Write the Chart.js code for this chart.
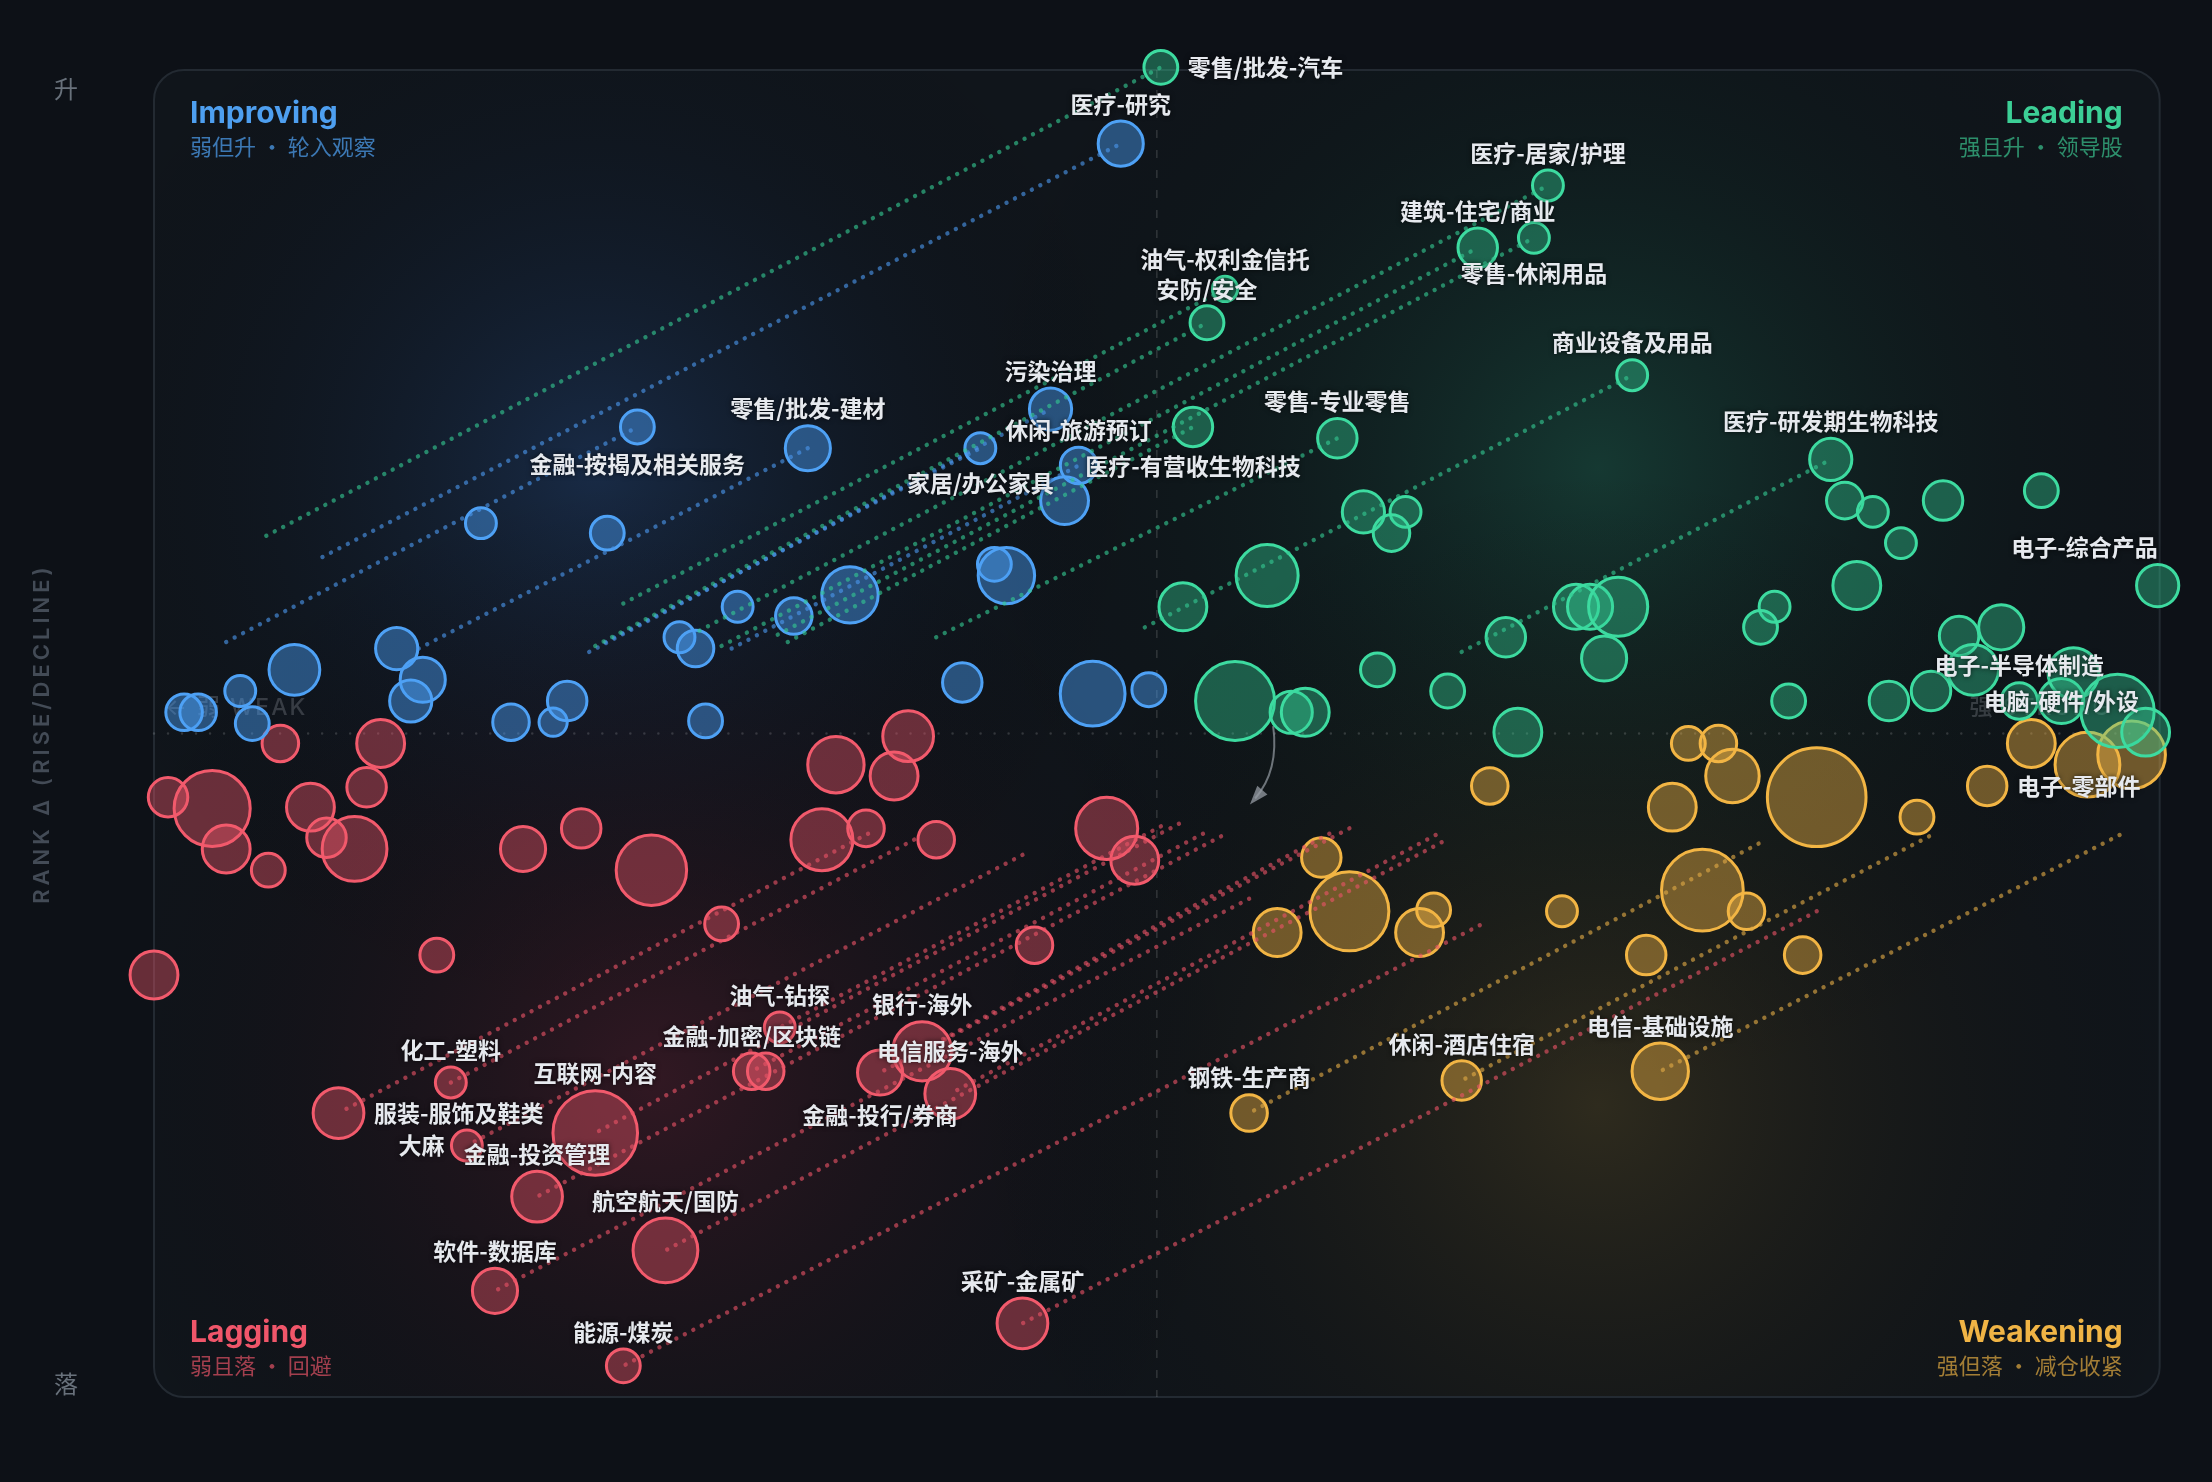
<!DOCTYPE html>
<html>
<head>
<meta charset="utf-8">
<title>Sector Rotation</title>
<script src="https://cdn.jsdelivr.net/npm/chart.js@4.4.1/dist/chart.umd.min.js"></script>
<style>
html, body { margin: 0; padding: 0; background: #0d1117; overflow: hidden; }
canvas { display: block; }
</style>
</head>
<body>
<canvas id="rrg" width="2212" height="1482"></canvas>
<script>
// sector -> strength (x, 0..100), rank change (y, -100..100), market cap (bubble size)
const sectorNames = [
    // improving
    '医疗-研究', '金融-按揭及相关服务', '零售/批发-建材', '', '', '污染治理', '家居/办公家具', '休闲-旅游预订', '', '',
    '', '', '', '', '', '', '', '', '', '',
    '', '', '', '', '', '', '', '', '', '', '',
    // leading
    '零售/批发-汽车', '医疗-居家/护理', '建筑-住宅/商业', '零售-休闲用品', '油气-权利金信托', '安防/安全', '商业设备及用品', '医疗-有营收生物科技', '零售-专业零售', '医疗-研发期生物科技',
    '', '', '', '', '', '电子-综合产品', '', '', '', '',
    '', '', '', '', '', '', '', '', '', '',
    '', '', '电子-半导体制造', '电脑-硬件/外设', '', '', '', '', '', '',
    '', '', '', '', '', '',
    // weakening
    '', '', '', '', '', '', '电子-零部件', '', '', '',
    '', '', '', '', '', '', '', '', '', '',
    '', '钢铁-生产商', '休闲-酒店住宿', '电信-基础设施',
    // lagging
    '', '', '', '', '', '', '', '', '', '',
    '', '', '', '', '', '', '', '', '', '',
    '', '', '', '', '', '油气-钻探', '金融-加密/区块链', '', '金融-投行/券商', '银行-海外',
    '电信服务-海外', '化工-塑料', '服装-服饰及鞋类', '大麻', '互联网-内容', '金融-投资管理', '航空航天/国防', '软件-数据库', '采矿-金属矿', '能源-煤炭'
];

const strength = [
    48.2, 24.1, 32.6, 16.3, 22.6, 44.7, 41.2, 46.1, 45.4, 29.1,
    31.9, 34.7, 41.9, 42.5, 26.2, 27.0, 7.0, 12.1, 13.4, 12.8,
    4.3, 4.9, 1.5, 2.2, 17.8, 19.9, 20.6, 27.5, 40.3, 46.8, 49.6,

    50.2, 69.5, 66.0, 68.8, 53.4, 52.5, 73.7, 51.8, 59.0, 83.6,
    84.3, 85.7, 89.2, 94.1, 87.1, 99.9, 84.9, 60.3, 62.4, 61.7,
    55.5, 51.3, 70.9, 71.6, 73.0, 67.4, 72.3, 80.8, 80.1, 90.0,
    92.1, 90.7, 93.0, 95.1, 95.7, 97.9, 99.3, 61.0, 64.5, 81.5,
    86.5, 88.6, 53.9, 56.7, 57.4, 68.0,

    76.5, 78.0, 78.7, 75.7, 82.9, 87.9, 91.4, 93.6, 96.4, 98.6,
    66.6, 58.2, 59.6, 56.0, 63.1, 63.8, 70.2, 77.2, 79.4, 74.4,
    82.2, 54.6, 65.2, 75.1,

    6.3, 11.3, 10.6, 0.7, 2.9, 3.6, 5.7, 7.8, 8.6, 10.0,
    18.4, 21.3, 24.8, 28.3, 14.1, 0.0, 37.6, 34.0, 36.9, 33.3,
    35.5, 39.0, 47.5, 48.9, 43.9, 31.2, 29.8, 30.5, 36.2, 38.3,
    39.7, 14.8, 9.2, 15.6, 22.0, 19.1, 25.5, 17.0, 43.3, 23.4
];

const rankDelta = [
    88.9, 46.2, 43.0, 31.7, 30.2, 48.9, 43.0, 40.4, 35.1, 19.1,
    17.7, 20.9, 25.5, 23.8, 14.5, 12.8, 9.6, 12.8, 8.1, 4.9,
    6.4, 1.5, 3.2, 3.2, 1.7, 1.7, 4.9, 1.9, 7.7, 6.0, 6.6,

    100.4, 82.6, 73.2, 74.7, 67.0, 61.9, 54.0, 46.2, 44.5, 41.3,
    35.1, 33.4, 35.1, 36.6, 28.7, 22.3, 22.3, 33.4, 33.4, 30.2,
    23.8, 19.1, 19.1, 19.1, 19.1, 14.5, 11.3, 19.1, 16.0, 14.7,
    16.0, 9.6, 4.9, 4.9, 9.1, 3.4, 0.2, 9.6, 6.4, 4.9,
    4.9, 6.4, 4.9, 3.2, 3.2, 0.2,

    -1.5, -1.5, -6.4, -11.1, -9.6, -12.6, -7.9, -1.5, -4.7, -3.2,
    -7.9, -18.7, -26.8, -30.0, -30.0, -26.6, -26.8, -23.6, -26.8, -33.4,
    -33.4, -57.2, -52.3, -50.9,

    -1.5, -1.5, -8.1, -9.6, -11.3, -17.4, -20.6, -11.1, -15.7, -17.4,
    -17.4, -14.3, -20.6, -28.7, -33.4, -36.4, -0.4, -4.7, -6.4, -16.0,
    -14.3, -16.0, -14.3, -19.1, -31.9, -44.3, -50.9, -50.9, -51.1, -47.9,
    -54.3, -52.6, -57.2, -62.1, -60.2, -69.8, -77.9, -84.0, -88.9, -95.3
];

const marketCap = [
    64, 36, 64, 30, 36, 56, 30, 42, 72, 30,
    42, 100, 36, 100, 30, 42, 81, 56, 64, 56,
    30, 36, 42, 42, 42, 25, 49, 36, 49, 132, 36,

    36, 30, 49, 30, 20, 36, 30, 49, 49, 56,
    42, 30, 49, 36, 30, 56, 72, 56, 30, 42,
    121, 72, 64, 64, 110, 49, 64, 30, 36, 49,
    64, 81, 42, 64, 81, 169, 72, 36, 36, 36,
    49, 49, 196, 56, 72, 72,

    36, 42, 90, 72, 306, 36, 49, 72, 132, 144,
    42, 49, 196, 72, 72, 36, 30, 210, 42, 49,
    42, 42, 49, 100,

    42, 72, 49, 49, 182, 72, 36, 72, 49, 132,
    64, 49, 156, 36, 36, 72, 81, 100, 72, 121,
    42, 42, 121, 72, 42, 30, 42, 42, 64, 110,
    81, 30, 81, 30, 225, 81, 132, 64, 81, 36
];

// tail = previous position of the sector
const trailNames = [
    '零售/批发-汽车', '医疗-研究', '金融-按揭及相关服务', '零售/批发-建材', '油气-权利金信托', '安防/安全',
    '污染治理', '家居/办公家具', '医疗-居家/护理', '建筑-住宅/商业', '休闲-旅游预订', '零售-休闲用品',
    '医疗-有营收生物科技', '零售-专业零售', '商业设备及用品', '医疗-研发期生物科技',
    '钢铁-生产商', '休闲-酒店住宿', '电信-基础设施',
    '服装-服饰及鞋类', '化工-塑料', '大麻', '互联网-内容', '油气-钻探', '金融-加密/区块链', '金融-投资管理',
    '软件-数据库', '银行-海外', '金融-投行/券商', '电信服务-海外', '航空航天/国防', '能源-煤炭', '采矿-金属矿'
];
const trailX = [
    5.6, 8.4, 3.6, 13.2, 23.4, 22.0, 21.7, 22.5, 27.2, 28.3, 28.8, 31.1, 31.6, 39.0, 49.4, 65.2,
    80.0, 88.5, 98.0,
    35.6, 37.9, 43.3, 51.1, 50.2, 52.3, 53.2, 54.6, 59.6, 58.6, 63.9, 64.2, 66.1, 82.9
];
const trailY = [
    29.8, 26.6, 13.8, 12.8, 19.6, 13.2, 12.3, 13.8, 15.5, 13.2, 12.8, 14.9, 13.8, 14.5, 16.0, 12.3,
    -16.6, -15.5, -15.3,
    -15.1, -16.0, -18.3, -13.6, -14.0, -15.1, -15.5, -24.9, -14.3, -15.1, -15.3, -16.4, -28.9, -26.8
];

// where each name label sits relative to its bubble
const labelSide = {
    '医疗-研究': 'top', '金融-按揭及相关服务': 'bottom', '零售/批发-建材': 'top', '污染治理': 'top',
    '家居/办公家具': 'bottom', '休闲-旅游预订': 'top', '零售/批发-汽车': 'right', '医疗-居家/护理': 'top',
    '建筑-住宅/商业': 'top', '零售-休闲用品': 'bottom', '油气-权利金信托': 'top', '安防/安全': 'top',
    '商业设备及用品': 'top', '医疗-有营收生物科技': 'bottom', '零售-专业零售': 'top', '医疗-研发期生物科技': 'top',
    '电子-综合产品': 'top', '电子-半导体制造': 'top', '电脑-硬件/外设': 'center', '电子-零部件': 'right',
    '钢铁-生产商': 'top', '休闲-酒店住宿': 'top', '电信-基础设施': 'top',
    '油气-钻探': 'top', '金融-加密/区块链': 'top', '金融-投行/券商': 'bottom', '银行-海外': 'top',
    '电信服务-海外': 'top', '化工-塑料': 'top', '服装-服饰及鞋类': 'right', '大麻': 'left',
    '互联网-内容': 'top', '金融-投资管理': 'top', '航空航天/国防': 'top', '软件-数据库': 'top',
    '采矿-金属矿': 'top', '能源-煤炭': 'top'
};

const quadrants = {
    improving: { title: 'Improving', sub: '弱但升 · 轮入观察', line: '#4ea1f5', fill: 'rgba(74,158,245,0.45)', trail: 'rgba(74,150,235,0.62)', title_c: '#4e9ff0', sub_c: 'rgba(78,159,240,0.72)' },
    leading:   { title: 'Leading',   sub: '强且升 · 领导股',   line: '#3ddba0', fill: 'rgba(52,211,153,0.38)', trail: 'rgba(52,200,145,0.62)', title_c: '#3ccf96', sub_c: 'rgba(60,207,150,0.66)' },
    weakening: { title: 'Weakening', sub: '强但落 · 减仓收紧', line: '#f2b544', fill: 'rgba(242,181,68,0.42)', trail: 'rgba(225,170,70,0.62)', title_c: '#f0b445', sub_c: 'rgba(240,180,69,0.66)' },
    lagging:   { title: 'Lagging',   sub: '弱且落 · 回避',     line: '#f25a6c', fill: 'rgba(240,88,108,0.40)', trail: 'rgba(232,82,102,0.62)', title_c: '#f0566a', sub_c: 'rgba(240,86,106,0.66)' }
};

const arrowFrom = { x: 55.8, y: 1.1 };
const arrowTo = { x: 54.9, y: -9.8 };

function quadrantOf(x, y) {
    if (x >= 50) return y >= 0 ? 'leading' : 'weakening';
    return y >= 0 ? 'improving' : 'lagging';
}

function radiusOf(cap) {
    return Math.sqrt(cap) * 2.82;
}

function bubbleDatasets() {
    const groups = {};
    for (const q of Object.keys(quadrants)) groups[q] = [];
    sectorNames.forEach((name, i) => {
        const q = quadrantOf(strength[i], rankDelta[i]);
        groups[q].push({ x: strength[i], y: rankDelta[i], r: radiusOf(marketCap[i]), name });
    });
    return Object.keys(groups).map(q => ({
        type: 'bubble',
        label: q,
        data: groups[q],
        backgroundColor: quadrants[q].fill,
        borderColor: quadrants[q].line,
        borderWidth: 3,
        hoverBorderWidth: 3,
        clip: false,
        order: 2
    }));
}

function trailDatasets() {
    return trailNames.map((name, i) => {
        const k = sectorNames.indexOf(name);
        const q = quadrantOf(strength[k], rankDelta[k]);
        return {
            type: 'line',
            label: 'trail ' + name,
            data: [{ x: trailX[i], y: trailY[i] }, { x: strength[k], y: rankDelta[k] }],
            borderColor: quadrants[q].trail,
            borderWidth: 4.4,
            borderDash: [0.01, 9.5],
            borderCapStyle: 'round',
            pointRadius: 0,
            fill: false,
            tension: 0,
            clip: false,
            order: 1
        };
    });
}

function roundRect(ctx, x, y, w, h, r) {
    ctx.beginPath();
    ctx.moveTo(x + r, y);
    ctx.arcTo(x + w, y, x + w, y + h, r);
    ctx.arcTo(x + w, y + h, x, y + h, r);
    ctx.arcTo(x, y + h, x, y, r);
    ctx.arcTo(x, y, x + w, y, r);
    ctx.closePath();
}

function glow(ctx, cx, cy, rad, color) {
    const g = ctx.createRadialGradient(cx, cy, 0, cx, cy, rad);
    g.addColorStop(0, color);
    g.addColorStop(1, 'rgba(0,0,0,0)');
    ctx.fillStyle = g;
    ctx.fillRect(cx - rad, cy - rad, rad * 2, rad * 2);
}

const backdrop = {
    id: 'backdrop',
    beforeDraw(chart) {
        const { ctx, chartArea: a, width, height } = chart;
        ctx.save();
        ctx.fillStyle = '#0d1117';
        ctx.fillRect(0, 0, width, height);

        roundRect(ctx, a.left, a.top, a.width, a.height, 30);
        ctx.fillStyle = '#10151b';
        ctx.fill();
        ctx.save();
        ctx.clip();
        const w = a.width, h = a.height;
        glow(ctx, a.left + w * 0.22, a.top + h * 0.30, 560, 'rgba(38,78,140,0.38)');
        glow(ctx, a.left + w * 0.72, a.top + h * 0.30, 640, 'rgba(28,100,78,0.45)');
        glow(ctx, a.left + w * 0.25, a.top + h * 0.76, 600, 'rgba(95,28,45,0.42)');
        glow(ctx, a.left + w * 0.72, a.top + h * 0.78, 640, 'rgba(92,76,34,0.40)');
        ctx.restore();

        roundRect(ctx, a.left, a.top, a.width, a.height, 30);
        ctx.strokeStyle = '#232a32';
        ctx.lineWidth = 2;
        ctx.stroke();
        ctx.restore();
    },
    beforeDatasetsDraw(chart) {
        const { ctx, chartArea: a, scales } = chart;
        const mx = scales.x.getPixelForValue(50);
        const my = scales.y.getPixelForValue(0);
        ctx.save();

        // centre lines
        ctx.strokeStyle = 'rgba(255,255,255,0.15)';
        ctx.lineWidth = 2.5;
        ctx.lineCap = 'round';
        ctx.setLineDash([0.01, 14]);
        ctx.beginPath();
        ctx.moveTo(a.left, my);
        ctx.lineTo(a.right, my);
        ctx.stroke();
        ctx.lineCap = 'butt';
        ctx.lineWidth = 1.5;
        ctx.strokeStyle = 'rgba(255,255,255,0.14)';
        ctx.setLineDash([8, 12]);
        ctx.beginPath();
        ctx.moveTo(mx, a.top);
        ctx.lineTo(mx, a.bottom);
        ctx.stroke();
        ctx.setLineDash([]);

        // quadrant titles
        const L = a.left + 36, R = a.right - 37;
        const T = a.top + 44, B = a.bottom - 64;
        const corners = [
            ['improving', L, T, 'left'], ['leading', R, T, 'right'],
            ['lagging', L, B, 'left'], ['weakening', R, B, 'right']
        ];
        ctx.textBaseline = 'middle';
        for (const [q, x, y, align] of corners) {
            const s = quadrants[q];
            ctx.textAlign = align;
            ctx.font = '700 30px Inter, "Noto Sans", sans-serif';
            ctx.fillStyle = s.title_c;
            ctx.fillText(s.title, x, y);
            ctx.font = '400 22px "Noto Sans CJK SC", sans-serif';
            ctx.fillStyle = s.sub_c;
            ctx.fillText(s.sub, x, y + 33);
        }

        // weak / strong hints
        ctx.font = '500 23px Inter, "Noto Sans CJK SC", sans-serif';
        ctx.letterSpacing = '2px';
        ctx.fillStyle = 'rgba(200,206,214,0.22)';
        ctx.textAlign = 'left';
        ctx.fillText('← 弱 WEAK', a.left + 11, my - 25);
        ctx.textAlign = 'right';
        ctx.fillText('强 STRONG →', a.right - 16, my - 25);
        ctx.letterSpacing = '0px';

        // rise / fall markers and axis title
        ctx.font = '400 24px "Noto Sans CJK SC", sans-serif';
        ctx.fillStyle = '#68717b';
        ctx.textAlign = 'center';
        ctx.fillText('升', 66, a.top + 19);
        ctx.fillText('落', 66, a.bottom - 13);

        ctx.save();
        ctx.translate(42, (a.top + a.bottom) / 2);
        ctx.rotate(-Math.PI / 2);
        ctx.font = '600 22px Inter, "DejaVu Sans", sans-serif';
        ctx.letterSpacing = '4px';
        ctx.fillStyle = '#434b56';
        ctx.fillText('RANK Δ (RISE/DECLINE)', 0, 0);
        ctx.restore();

        // small rotation arrow
        const sx = scales.x.getPixelForValue(arrowFrom.x), sy = scales.y.getPixelForValue(arrowFrom.y);
        const ex = scales.x.getPixelForValue(arrowTo.x), ey = scales.y.getPixelForValue(arrowTo.y);
        const cx = sx + 6, cy = ey - 28;
        ctx.strokeStyle = 'rgba(150,156,164,0.7)';
        ctx.lineWidth = 2;
        ctx.beginPath();
        ctx.moveTo(sx, sy);
        ctx.quadraticCurveTo(cx, cy, ex, ey);
        ctx.stroke();
        const ang = Math.atan2(ey - cy, ex - cx);
        ctx.fillStyle = 'rgba(150,156,164,0.75)';
        ctx.beginPath();
        ctx.moveTo(ex + Math.cos(ang) * 8, ey + Math.sin(ang) * 8);
        ctx.lineTo(ex + Math.cos(ang + 2.6) * 13, ey + Math.sin(ang + 2.6) * 13);
        ctx.lineTo(ex + Math.cos(ang - 2.6) * 13, ey + Math.sin(ang - 2.6) * 13);
        ctx.closePath();
        ctx.fill();

        ctx.restore();
    }
};

const nameLabels = {
    id: 'nameLabels',
    afterDatasetsDraw(chart) {
        const { ctx, chartArea: a, scales } = chart;
        ctx.save();
        ctx.font = '600 23px "Noto Sans CJK SC", sans-serif';
        ctx.fillStyle = '#e6e9ee';
        ctx.textBaseline = 'middle';
        ctx.shadowColor = 'rgba(0,0,0,0.75)';
        ctx.shadowBlur = 5;
        sectorNames.forEach((name, i) => {
            if (!name) return;
            const px = scales.x.getPixelForValue(strength[i]);
            const py = scales.y.getPixelForValue(rankDelta[i]);
            const r = radiusOf(marketCap[i]);
            const w = ctx.measureText(name).width;
            const side = labelSide[name] || 'top';
            let left, y;
            if (side === 'top') { left = px - w / 2; y = py - r - 17; }
            else if (side === 'bottom') { left = px - w / 2; y = py + r + 20; }
            else if (side === 'right') { left = px + r + 10; y = py; }
            else if (side === 'left') { left = px - r - 7 - w; y = py; }
            else { left = px - w / 2; y = py; }
            if (left < a.left + 4) left = a.left + 4;
            if (left + w > a.right - 2) left = a.right - 2 - w;
            ctx.textAlign = 'left';
            ctx.fillText(name, left, y);
        });
        ctx.restore();
    }
};

const chart = new Chart(document.getElementById('rrg'), {
    type: 'bubble',
    data: { datasets: [...bubbleDatasets(), ...trailDatasets()] },
    options: {
        responsive: false,
        animation: false,
        devicePixelRatio: 1,
        layout: { padding: { left: 154, right: 34, top: 70, bottom: 85 } },
        scales: {
            x: { type: 'linear', min: 0, max: 100, display: false },
            y: { type: 'linear', min: -100, max: 100, display: false }
        },
        plugins: { legend: { display: false }, tooltip: { enabled: false } },
        events: []
    },
    plugins: [backdrop, nameLabels]
});
</script>
</body>
</html>
